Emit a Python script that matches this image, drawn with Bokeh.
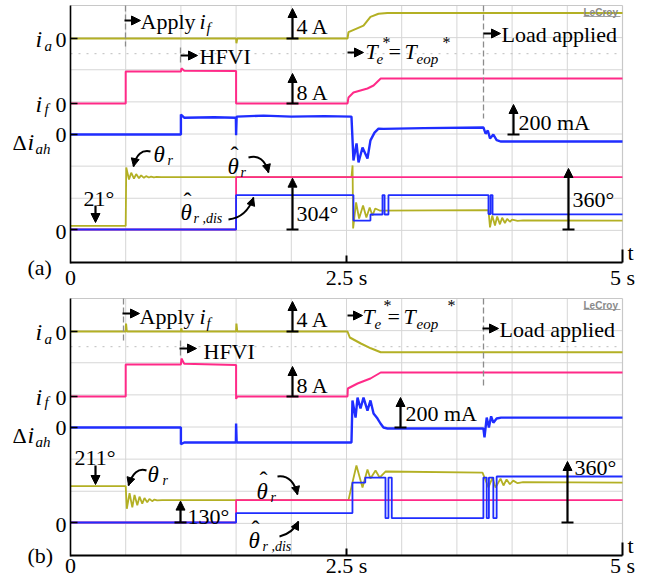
from bokeh.plotting import figure
from bokeh.models import Range1d, Arrow, NormalHead, Label
from bokeh.embed import file_html
from bokeh.resources import INLINE

# ---------------- data: panel (a) ----------------
ia_a_t = [0, 1.5, 1.503, 1.51, 2.509, 2.518, 2.654, 2.717, 2.79, 2.87, 5.0]
ia_a_v = [0, 0, -0.6, 0, 0, 0.8, 1.6, 2.7, 3.1, 3.2, 3.2]               # A

if_a_t = [0, 0.5, 0.5, 1.0, 1.005, 1.03, 1.5, 1.5, 2.509, 2.518, 2.563, 2.69, 2.745, 2.81, 5.0]
if_a_v = [0, 0, 8, 8, 8.8, 8.2, 8.1, 0, 0, 1.5, 2.75, 3.75, 4.5, 6.25, 6.25]  # A

di_a_t = [0, 1.0, 1.0, 1.03, 1.3, 1.498, 1.5, 1.505, 1.75, 2.0, 2.3, 2.545, 2.563, 2.591, 2.609,
          2.645, 2.69, 2.717, 2.754, 2.79, 2.835, 3.2, 3.74, 3.76, 3.78, 3.80, 3.83, 3.86, 3.9, 5.0]
di_a_v = [0, 0, 125, 105, 108, 105, -5, 112, 118, 112, 115, 112, -162, -56, -175,
          -81, -150, -37, 12, 37, 35, 40, 44, 5, 25, -25, 0, -35, -44, -44]   # mA

th_a_t = [0, 0.5, 0.505, 0.53, 0.55, 0.575, 0.595, 0.62, 0.64, 0.665, 0.685, 0.71, 0.73, 0.755,
          0.78, 0.82, 2.545, 2.555, 2.56, 2.587, 2.614, 2.65, 2.68, 2.71, 2.735, 2.76, 2.8,
          3.786, 3.80, 3.82, 3.845, 3.865, 3.89, 3.91, 3.935, 3.955, 3.98, 4.0, 4.05, 4.1, 5.0]
th_a_v = [21, 21, 360, 290, 330, 295, 322, 298, 314, 300, 310, 302, 307, 303,
          305, 304, 304, 372, 6, 157, 64, 139, 70, 128, 81, 122, 110,
          112, 12, 81, 23, 75, 30, 68, 38, 62, 45, 58, 50, 53, 52]          # deg

thh_a_t = [0, 1.5, 1.5, 5.0]
thh_a_v = [0, 0, 304, 304]

thd_a_t = [0, 1.5, 1.5, 2.563, 2.563, 2.717, 2.717, 2.826, 2.826, 2.845, 2.845, 2.88, 2.88,
           3.786, 3.786, 3.805, 3.805, 3.823, 3.823, 5.0]
thd_a_v = [0, 0, 200, 200, 52, 52, 87, 87, 200, 200, 87, 87, 200,
           200, 90, 90, 200, 200, 88, 88]

# ---------------- data: panel (b) ----------------
ia_b_t = [0, 0.5, 0.503, 0.51, 1.0, 1.003, 1.01, 1.5, 1.503, 1.51, 2.509, 2.53, 2.63, 2.72, 2.81, 5.0]
ia_b_v = [0, 0, 1.0, 0, 0, 0.4, 0, 0, 1.0, 0, 0, -0.75, -1.5, -2.1, -2.6, -2.6]

if_b_t = [0, 0.5, 0.5, 1.0, 1.005, 1.03, 1.5, 1.5, 1.51, 2.509, 2.512, 2.6, 2.717, 2.81, 5.0]
if_b_v = [0, 0, 8, 8, 9.5, 8.2, 7.9, -0.6, 0, 0, 2.0, 3.25, 4.5, 6.0, 6.0]

di_b_t = [0, 1.0, 1.0, 1.03, 1.498, 1.5, 1.505, 1.52, 2.545, 2.554, 2.582, 2.6, 2.627, 2.654,
          2.69, 2.717, 2.745, 2.781, 2.808, 2.835, 2.871, 3.74, 3.75, 3.77, 3.79, 3.81, 3.83,
          3.86, 3.9, 5.0]
di_b_v = [0, 0, -105, -94, -94, 25, -94, -94, -94, 169, 62, 187, 119, 187,
          106, 169, 87, 56, 25, 0, -6, -6, -62, 62, 0, 70, 30,
          56, 62, 62]

th_b_t = [0, 0.5, 0.51, 0.535, 0.56, 0.58, 0.605, 0.625, 0.65, 0.67, 0.695, 0.715, 0.74, 0.76,
          0.785, 0.83, 2.518, 2.554, 2.59, 2.645, 2.69, 2.717, 2.763, 2.8, 2.853,
          3.732, 3.786, 3.822, 3.85, 3.895, 3.922, 3.95, 3.98, 4.01, 4.05, 4.1, 5.0]
th_b_v = [211, 211, 80, 170, 88, 160, 100, 150, 110, 142, 118, 137, 124, 133,
          128, 130, 130, 232, 331, 203, 308, 255, 302, 261, 296,
          290, 203, 261, 203, 255, 215, 250, 222, 243, 228, 234, 232]

thh_b_t = [0, 1.5, 1.5, 5.0]
thh_b_v = [0, 0, 130, 130]

thd_b_t = [0, 1.5, 1.5, 2.554, 2.554, 2.67, 2.67, 2.853, 2.853, 2.88, 2.88, 2.91, 2.91,
           3.74, 3.74, 3.77, 3.77, 3.79, 3.79, 3.83, 3.83, 3.86, 3.86, 5.0]
thd_b_v = [0, 0, 55, 55, 232, 232, 261, 261, 25, 25, 261, 261, 25,
           25, 261, 261, 25, 25, 261, 261, 25, 25, 267, 267]

time_ticks = ["0", "2.5 s", "5 s"]
tick_times = [0, 2.5, 5.0]

# ---------------- layout ----------------
W, H = 649, 579
X0, X1, T_END = 70, 622, 5.0
PXS = (X1 - X0) / T_END


def X(px):
    return (px - X0) / PXS


IA_S, IF_S, DI_S, ANG_S = 32 / 4, 32 / 8, 32 / 200, 62 / 360
OLIVE, PINK, BLUE = "#b3b024", "#ff2a88", "#1f2dff"
GRID = "#d6d6d6"
FONT = "Liberation Serif"

p = figure(width=W, height=H, x_range=Range1d(X(0), X(W)), y_range=Range1d(H, 0),
           output_backend="svg", toolbar_location=None, min_border=0,
           x_axis_location=None, y_axis_location=None)
p.grid.visible = False
p.outline_line_color = None
p.background_fill_color = "white"


def T(px, py, s, size=22, italic=False, color="black", align="left", font=FONT, bold=False):
    style = "italic" if italic else ("bold" if bold else "normal")
    dy = -round(0.28 * size)
    p.add_layout(Label(x=X(px), y=py + dy, text=s, text_font=font, text_font_size=f"{size}px",
                       text_font_style=style, text_color=color, text_align=align,
                       text_baseline="alphabetic"))


def seg(x0, y0, x1, y1, color="black", w=1.0, dash="solid"):
    p.segment(x0=[X(x0)], y0=[y0], x1=[X(x1)], y1=[y1], line_color=color, line_width=w, line_dash=dash)


def arrow(x0, y0, x1, y1, size=9, w=2.2):
    p.add_layout(Arrow(end=NormalHead(size=size, fill_color="black", line_color="black", line_width=1),
                       x_start=X(x0), y_start=y0, x_end=X(x1), y_end=y1,
                       line_width=w, line_color="black"))


def barrow(x, y0, y1):
    seg(x - 6, y0, x + 6, y0, w=2)
    arrow(x, y0, x, y1)


def carrow(x0, y0, cx, cy, x1, y1):
    p.quadratic(x0=[X(x0)], y0=[y0], x1=[X(x1)], y1=[y1], cx=[X(cx)], cy=[cy],
                line_color="black", line_width=2)
    f = 0.25
    arrow(x1 - f * (x1 - cx), y1 - f * (y1 - cy), x1, y1, size=8, w=1.5)


def theta(px, py, sub, hat=False, subx=None):
    T(px, py, "θ", 23, italic=True)
    if hat:
        T(px + 3, py - 11, "ˆ", 24)
    T(subx if subx is not None else px + 12, py + 4, sub, 14, italic=True)


def panel(o, ia_t, ia_v, if_t, if_v, di_t, di_v, th_t, th_v, thh_t, thh_v, thd_t, thd_v, lab_dy):
    top, bot = 5 + o, 262 + o
    ia0, if0, di0, ang0 = 38 + o, 103 + o, 134 + o, 229 + o
    div = (bot - top) / 8
    # grid
    for k in range(1, 10):
        seg(X0 + k * 55.2, top, X0 + k * 55.2, bot, GRID, 1)
    for k in range(1, 8):
        seg(X0, top + k * div, X1, top + k * div, GRID, 1)
    seg(X0, top + 1.5 * div, X1, top + 1.5 * div, "#bdbdbd", 1, "2 6")
    seg(X0, top, X1, top, "#c8c8c8", 1.2)
    seg(X1, top, X1, bot, "#c8c8c8", 1.2)
    # traces
    p.line(ia_t, [ia0 - v * IA_S for v in ia_v], line_color=OLIVE, line_width=2)
    p.line(if_t, [if0 - v * IF_S for v in if_v], line_color=PINK, line_width=2)
    p.line(di_t, [di0 - v * DI_S for v in di_v], line_color=BLUE, line_width=2.4)
    p.line(th_t, [ang0 - v * ANG_S for v in th_v], line_color=OLIVE, line_width=1.8)
    p.line(thh_t, [ang0 - v * ANG_S for v in thh_v], line_color=PINK, line_width=1.8)
    p.line(thd_t, [ang0 - v * ANG_S for v in thd_v], line_color=BLUE, line_width=1.8)
    # axes
    seg(X0, top, X0, bot + 1, "black", 1.6)
    seg(X0, bot, X1, bot, "black", 2)
    seg(X0 + 2.5 * PXS, bot - 7, X0 + 2.5 * PXS, bot, "black", 2)
    seg(X1, bot - 13, X1, bot, "black", 2)
    for z in (ia0, if0, di0, ang0):
        seg(X0, z, X0 + 7, z, "black", 1.6)
    for tt, lab in zip(tick_times, time_ticks):
        T(X0 + tt * PXS, bot + lab_dy, lab, 22, align="center")
    T(627, bot - 4, "t", 22)
    # left labels
    T(35, ia0 + 7, "i", 24, italic=True); T(44, ia0 + 11, "a", 15, italic=True); T(55, ia0 + 7, "0", 22)
    T(35, if0 + 7, "i", 24, italic=True); T(44, if0 + 9, "f", 15, italic=True); T(55, if0 + 7, "0", 22)
    T(12, di0 + 14, "Δ", 22); T(27, di0 + 14, "i", 24, italic=True); T(35, di0 + 18, "ah", 15, italic=True)
    T(55, di0 + 6, "0", 22)
    T(55, ang0 + 8, "0", 22)
    T(583, top + 10, "LeCroy", 10, color="#8a8a8a", font="Liberation Sans", bold=True)
    seg(583, top + 11, 620, top + 11, "#8a8a8a", 0.8)
    # scale arrows
    barrow(292, ia0, ia0 - 4 * IA_S + 2)
    T(296, ia0 - 6, "4 A", 22)
    barrow(292, if0, if0 - 8 * IF_S + 2)
    T(296, if0 - 5, "8 A", 22)
    return top, bot, ia0, if0, di0, ang0


# ---------------- panel (a) ----------------
top, bot, ia0, if0, di0, ang0 = panel(0, ia_a_t, ia_a_v, if_a_t, if_a_v, di_a_t, di_a_v,
                                      th_a_t, th_a_v, thh_a_t, thh_a_v, thd_a_t, thd_a_v, 21)
seg(125, 5, 125, 46, "#8c8c8c", 1.3, "6 3")
arrow(124, 20, 140, 20)
T(140, 27, "Apply", 22); T(199, 27, "i", 22, italic=True); T(206, 31, "f", 15, italic=True)
seg(180, 47, 180, 65, "#8c8c8c", 1.3, "6 3")
arrow(180, 55, 197, 55)
T(199, 62, "HFVI", 22)
arrow(347, 52, 363, 52)
T(365, 57, "T", 22, italic=True); T(376, 62, "e", 15, italic=True); T(382, 46, "*", 16)
T(388, 57, "=", 22); T(404, 57, "T", 22, italic=True); T(416, 62, "eop", 15, italic=True)
T(442, 46, "*", 16)
seg(483, 5, 483, 118, "#8c8c8c", 1.3, "6 3")
arrow(483, 33, 500, 33)
T(501, 40, "Load applied", 22)
barrow(513, di0, di0 - 200 * DI_S + 2)
T(518, 128, "200 mA", 22)
theta(153, 160, "r", subx=167)
carrow(150, 151, 137, 148, 133, 166)
theta(227, 172, "r", hat=True, subx=240)
carrow(248, 157, 263, 153, 268, 172)
theta(180, 218, "r ,dis", hat=True, subx=193)
carrow(228, 219, 246, 217, 253, 197)
T(83, 204, "21°", 22)
arrow(95, 205, 95, 222)
barrow(292, ang0, ang0 - 304 * ANG_S + 1)
T(296, 219, "304°", 22)
barrow(568, ang0, ang0 - 360 * ANG_S + 1)
T(572, 205, "360°", 22)
T(27, 273, "(a)", 22)

# ---------------- panel (b) ----------------
o = 293
top, bot, ia0, if0, di0, ang0 = panel(o, ia_b_t, ia_b_v, if_b_t, if_b_v, di_b_t, di_b_v,
                                      th_b_t, th_b_v, thh_b_t, thh_b_v, thd_b_t, thd_b_v, 16)
seg(123, 298, 123, 340, "#8c8c8c", 1.3, "6 3")
arrow(122, 313, 139, 313)
T(139, 322, "Apply", 22); T(199, 322, "i", 22, italic=True); T(206, 326, "f", 15, italic=True)
seg(180, 340, 180, 355, "#8c8c8c", 1.3, "6 3")
arrow(179, 348, 196, 348)
T(203, 357, "HFVI", 22)
arrow(347, 315, 362, 315)
T(362, 322, "T", 22, italic=True); T(374, 327, "e", 15, italic=True); T(383, 309, "*", 16)
T(387, 322, "=", 22); T(403, 322, "T", 22, italic=True); T(416, 327, "eop", 15, italic=True)
T(447, 309, "*", 16)
seg(483, 298, 483, 387, "#8c8c8c", 1.3, "6 3")
arrow(482, 328, 498, 328)
T(499, 335, "Load applied", 22)
barrow(400, di0, di0 - 200 * DI_S + 2)
T(405, 419, "200 mA", 22)
T(74, 463, "211°", 22)
arrow(95, 465, 95, 484)
theta(147, 480, "r", subx=162)
carrow(146, 470, 134, 466, 128, 485)
barrow(180, ang0, ang0 - 130 * ANG_S + 1)
T(187, 522, "130°", 22)
theta(256, 497, "r", hat=True, subx=270)
carrow(277, 476, 292, 474, 297, 494)
theta(248, 546, "r ,dis", hat=True, subx=262)
carrow(279, 536, 292, 533, 298, 521)
barrow(567, ang0, ang0 - 360 * ANG_S + 1)
T(574, 473, "360°", 22)
T(27, 561, "(b)", 22)

open("out.html", "w").write(file_html(p, INLINE))
